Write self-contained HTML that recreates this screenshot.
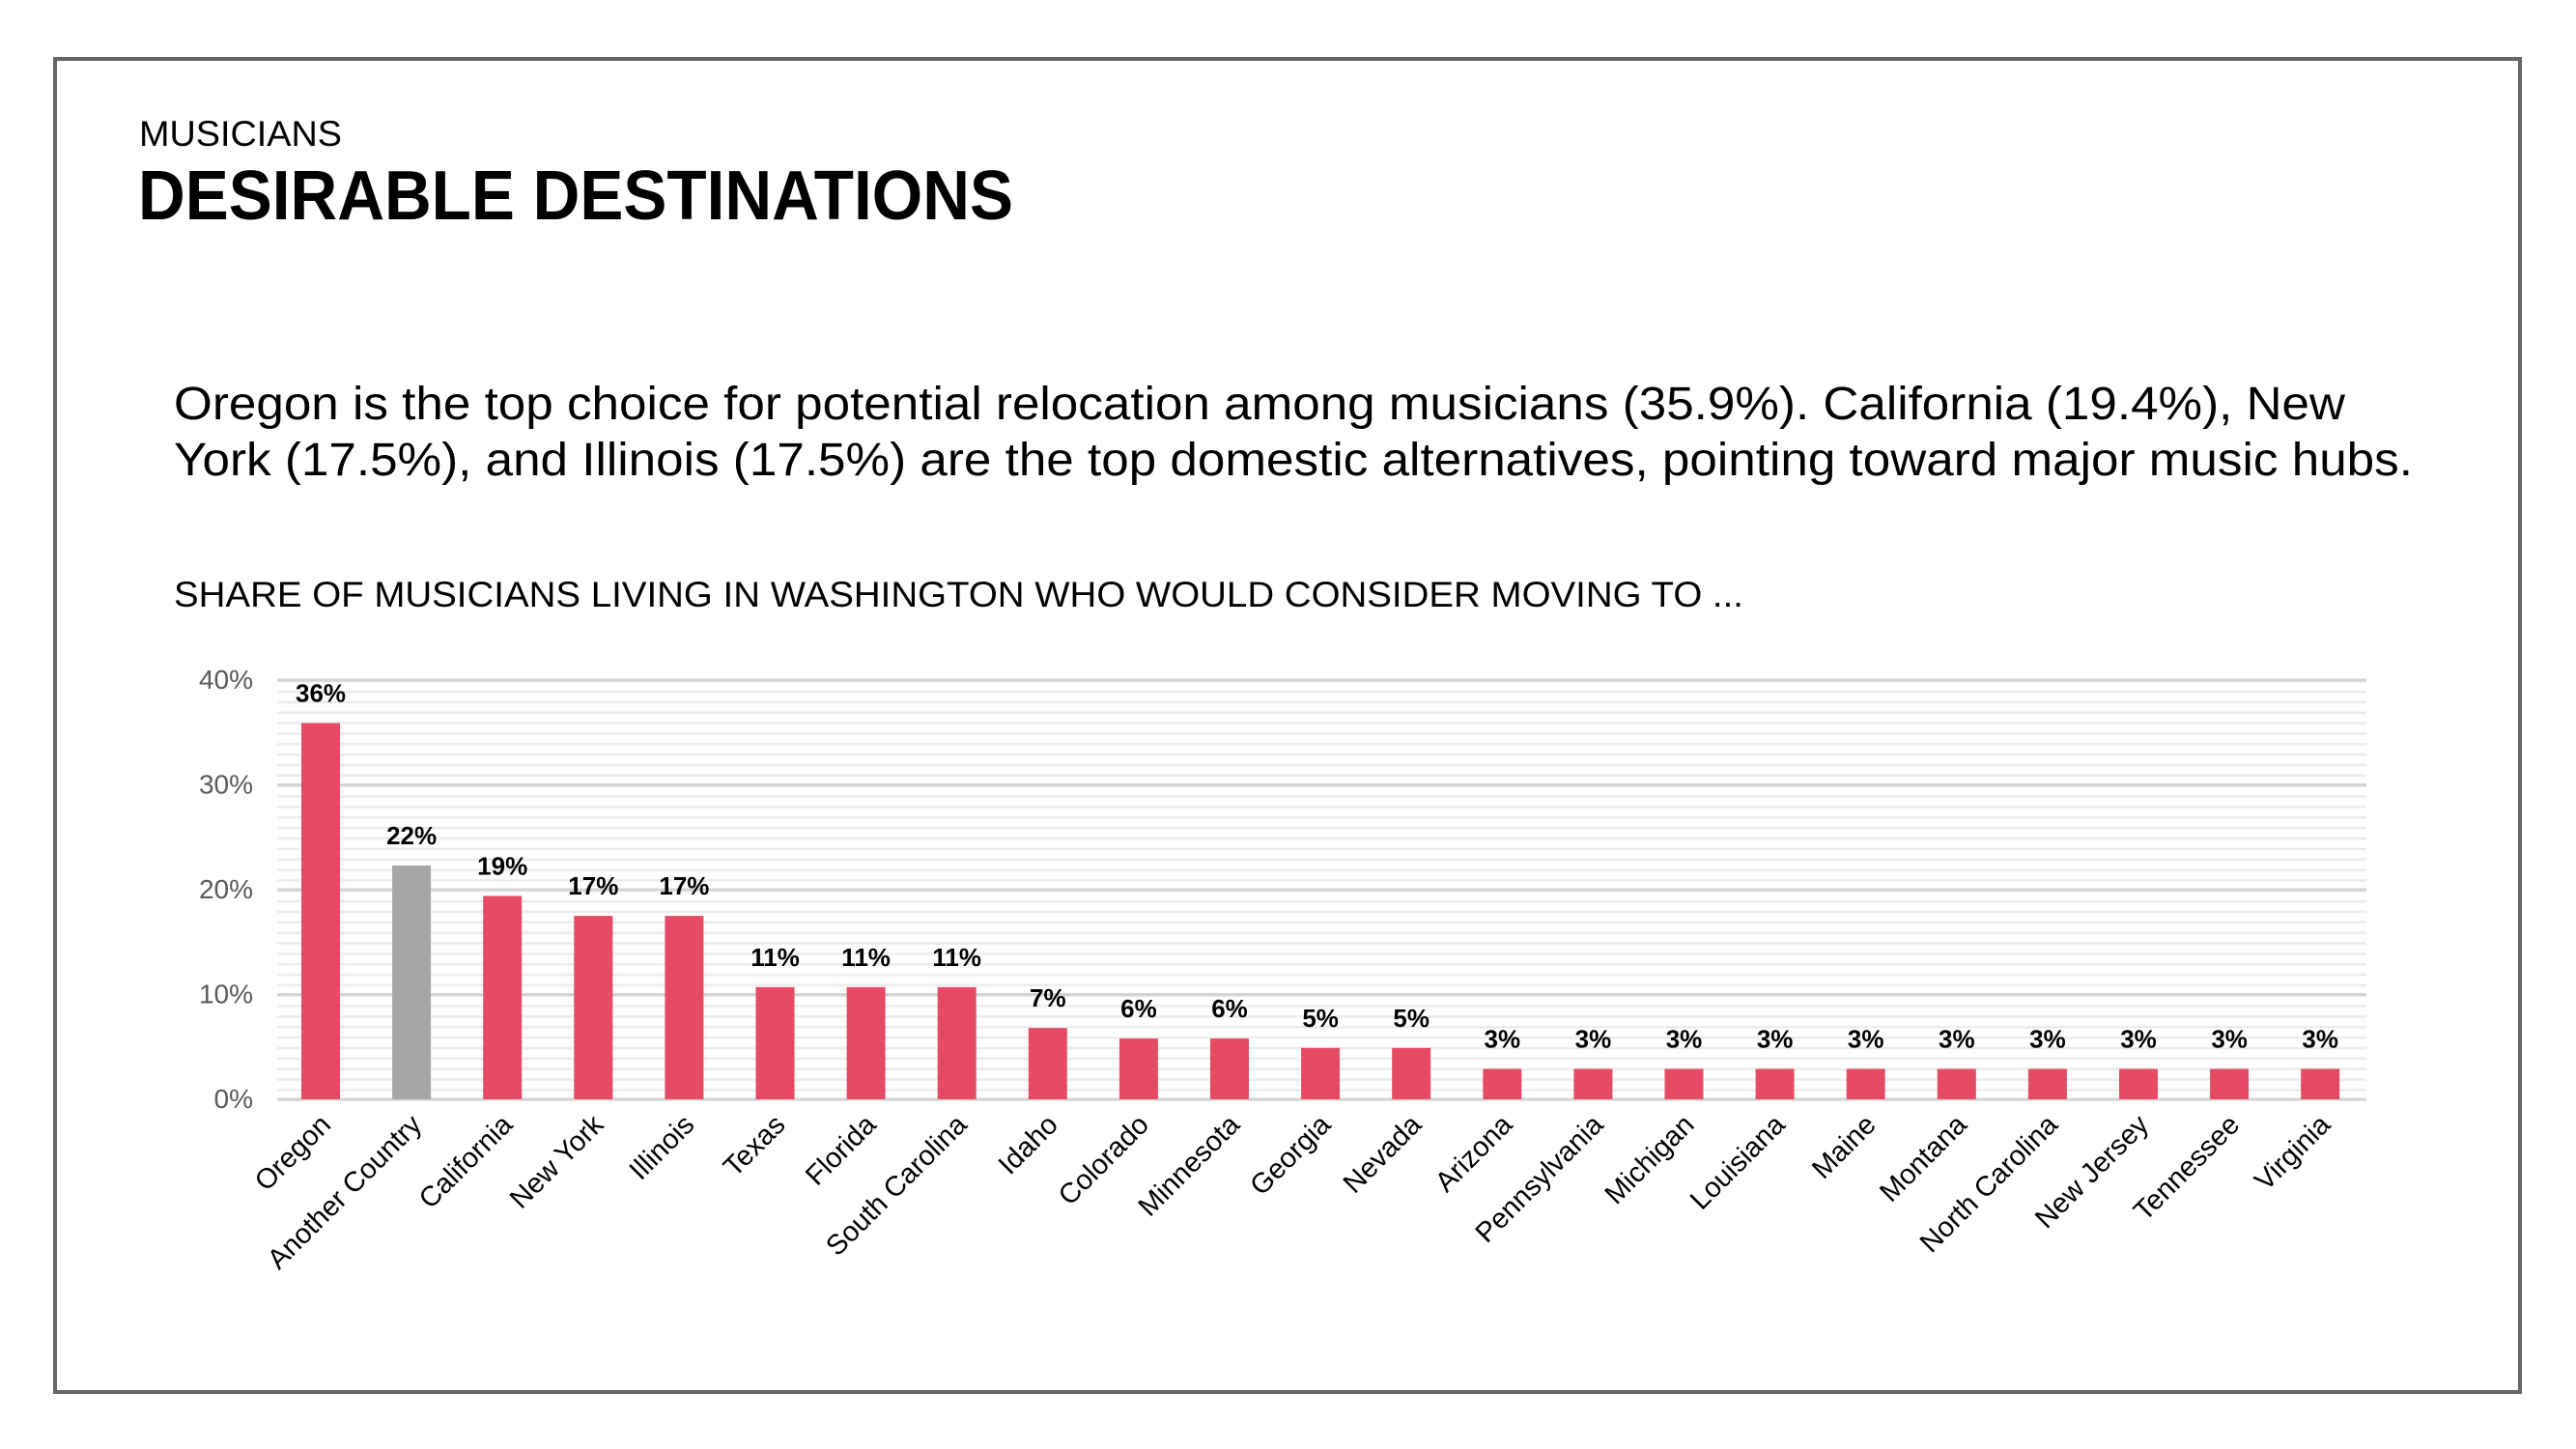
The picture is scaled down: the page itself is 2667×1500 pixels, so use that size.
<!DOCTYPE html>
<html><head><meta charset="utf-8"><style>html,body{margin:0;padding:0;background:#fff}svg{display:block}</style></head>
<body>
<svg width="2667" height="1500" viewBox="0 0 2667 1500" xmlns="http://www.w3.org/2000/svg" font-family="Liberation Sans, sans-serif">
<defs>
<pattern id="minor" patternUnits="userSpaceOnUse" x="0" y="708" width="50" height="10.85">
<rect x="0" y="0" width="50" height="2.5" fill="#ececec"/>
</pattern>
</defs>
<rect x="0" y="0" width="2667" height="1500" fill="#fff"/>
<rect x="57" y="61" width="2552" height="1380" fill="none" stroke="#666" stroke-width="4"/>
<text x="144" y="151" font-size="37" fill="#000" textLength="210" lengthAdjust="spacingAndGlyphs">MUSICIANS</text>
<text x="143" y="227" font-size="72" font-weight="bold" fill="#000" textLength="906" lengthAdjust="spacingAndGlyphs">DESIRABLE DESTINATIONS</text>
<text x="180" y="434" font-size="48" fill="#000" textLength="2248" lengthAdjust="spacingAndGlyphs">Oregon is the top choice for potential relocation among musicians (35.9%). California (19.4%), New</text>
<text x="180" y="492" font-size="48" fill="#000" textLength="2318" lengthAdjust="spacingAndGlyphs">York (17.5%), and Illinois (17.5%) are the top domestic alternatives, pointing toward major music hubs.</text>
<text x="180" y="628" font-size="37" fill="#000" textLength="1625" lengthAdjust="spacingAndGlyphs">SHARE OF MUSICIANS LIVING IN WASHINGTON WHO WOULD CONSIDER MOVING TO ...</text>

<g transform="translate(0,-4)">
<rect x="287" y="707" width="2163" height="437" fill="url(#minor)"/>
<g stroke="#d4d4d4" stroke-width="3">
<line x1="287" x2="2450" y1="708" y2="708"/>
<line x1="287" x2="2450" y1="816.5" y2="816.5"/>
<line x1="287" x2="2450" y1="925" y2="925"/>
<line x1="287" x2="2450" y1="1033.5" y2="1033.5"/>
<line x1="287" x2="2450" y1="1142" y2="1142"/>
</g>
<g font-size="28" fill="#595959" text-anchor="end">
<text x="262" y="717">40%</text>
<text x="262" y="825.5">30%</text>
<text x="262" y="934">20%</text>
<text x="262" y="1042.5">10%</text>
<text x="262" y="1151">0%</text>
</g>

<g font-size="29" fill="#000">
<g transform="translate(332,0)"><rect x="-20" y="752.5" width="40" height="389.5" fill="#e54b64"/><text x="0" y="730.5" font-size="26" font-weight="bold" text-anchor="middle">36%</text><text text-anchor="end" transform="translate(12,1170) rotate(-45)">Oregon</text></g>
<g transform="translate(426.1,0)"><rect x="-20" y="900" width="40" height="242" fill="#a6a6a6"/><text x="0" y="878" font-size="26" font-weight="bold" text-anchor="middle">22%</text><text text-anchor="end" transform="translate(12,1170) rotate(-45)">Another Country</text></g>
<g transform="translate(520.2,0)"><rect x="-20" y="931.5" width="40" height="210.5" fill="#e54b64"/><text x="0" y="909.5" font-size="26" font-weight="bold" text-anchor="middle">19%</text><text text-anchor="end" transform="translate(12,1170) rotate(-45)">California</text></g>
<g transform="translate(614.3,0)"><rect x="-20" y="952.1" width="40" height="189.9" fill="#e54b64"/><text x="0" y="930" font-size="26" font-weight="bold" text-anchor="middle">17%</text><text text-anchor="end" transform="translate(12,1170) rotate(-45)">New York</text></g>
<g transform="translate(708.4,0)"><rect x="-20" y="952.1" width="40" height="189.9" fill="#e54b64"/><text x="0" y="930" font-size="26" font-weight="bold" text-anchor="middle">17%</text><text text-anchor="end" transform="translate(12,1170) rotate(-45)">Illinois</text></g>
<g transform="translate(802.5,0)"><rect x="-20" y="1025.9" width="40" height="116.1" fill="#e54b64"/><text x="0" y="1004" font-size="26" font-weight="bold" text-anchor="middle">11%</text><text text-anchor="end" transform="translate(12,1170) rotate(-45)">Texas</text></g>
<g transform="translate(896.6,0)"><rect x="-20" y="1025.9" width="40" height="116.1" fill="#e54b64"/><text x="0" y="1004" font-size="26" font-weight="bold" text-anchor="middle">11%</text><text text-anchor="end" transform="translate(12,1170) rotate(-45)">Florida</text></g>
<g transform="translate(990.7,0)"><rect x="-20" y="1025.9" width="40" height="116.1" fill="#e54b64"/><text x="0" y="1004" font-size="26" font-weight="bold" text-anchor="middle">11%</text><text text-anchor="end" transform="translate(12,1170) rotate(-45)">South Carolina</text></g>
<g transform="translate(1084.8,0)"><rect x="-20" y="1068.2" width="40" height="73.8" fill="#e54b64"/><text x="0" y="1046" font-size="26" font-weight="bold" text-anchor="middle">7%</text><text text-anchor="end" transform="translate(12,1170) rotate(-45)">Idaho</text></g>
<g transform="translate(1178.9,0)"><rect x="-20" y="1079.1" width="40" height="62.9" fill="#e54b64"/><text x="0" y="1057" font-size="26" font-weight="bold" text-anchor="middle">6%</text><text text-anchor="end" transform="translate(12,1170) rotate(-45)">Colorado</text></g>
<g transform="translate(1273,0)"><rect x="-20" y="1079.1" width="40" height="62.9" fill="#e54b64"/><text x="0" y="1057" font-size="26" font-weight="bold" text-anchor="middle">6%</text><text text-anchor="end" transform="translate(12,1170) rotate(-45)">Minnesota</text></g>
<g transform="translate(1367.1,0)"><rect x="-20" y="1088.8" width="40" height="53.2" fill="#e54b64"/><text x="0" y="1067" font-size="26" font-weight="bold" text-anchor="middle">5%</text><text text-anchor="end" transform="translate(12,1170) rotate(-45)">Georgia</text></g>
<g transform="translate(1461.2,0)"><rect x="-20" y="1088.8" width="40" height="53.2" fill="#e54b64"/><text x="0" y="1067" font-size="26" font-weight="bold" text-anchor="middle">5%</text><text text-anchor="end" transform="translate(12,1170) rotate(-45)">Nevada</text></g>
<g transform="translate(1555.3,0)"><rect x="-20" y="1110.5" width="40" height="31.5" fill="#e54b64"/><text x="0" y="1088.5" font-size="26" font-weight="bold" text-anchor="middle">3%</text><text text-anchor="end" transform="translate(12,1170) rotate(-45)">Arizona</text></g>
<g transform="translate(1649.4,0)"><rect x="-20" y="1110.5" width="40" height="31.5" fill="#e54b64"/><text x="0" y="1088.5" font-size="26" font-weight="bold" text-anchor="middle">3%</text><text text-anchor="end" transform="translate(12,1170) rotate(-45)">Pennsylvania</text></g>
<g transform="translate(1743.5,0)"><rect x="-20" y="1110.5" width="40" height="31.5" fill="#e54b64"/><text x="0" y="1088.5" font-size="26" font-weight="bold" text-anchor="middle">3%</text><text text-anchor="end" transform="translate(12,1170) rotate(-45)">Michigan</text></g>
<g transform="translate(1837.6,0)"><rect x="-20" y="1110.5" width="40" height="31.5" fill="#e54b64"/><text x="0" y="1088.5" font-size="26" font-weight="bold" text-anchor="middle">3%</text><text text-anchor="end" transform="translate(12,1170) rotate(-45)">Louisiana</text></g>
<g transform="translate(1931.7,0)"><rect x="-20" y="1110.5" width="40" height="31.5" fill="#e54b64"/><text x="0" y="1088.5" font-size="26" font-weight="bold" text-anchor="middle">3%</text><text text-anchor="end" transform="translate(12,1170) rotate(-45)">Maine</text></g>
<g transform="translate(2025.8,0)"><rect x="-20" y="1110.5" width="40" height="31.5" fill="#e54b64"/><text x="0" y="1088.5" font-size="26" font-weight="bold" text-anchor="middle">3%</text><text text-anchor="end" transform="translate(12,1170) rotate(-45)">Montana</text></g>
<g transform="translate(2119.9,0)"><rect x="-20" y="1110.5" width="40" height="31.5" fill="#e54b64"/><text x="0" y="1088.5" font-size="26" font-weight="bold" text-anchor="middle">3%</text><text text-anchor="end" transform="translate(12,1170) rotate(-45)">North Carolina</text></g>
<g transform="translate(2214,0)"><rect x="-20" y="1110.5" width="40" height="31.5" fill="#e54b64"/><text x="0" y="1088.5" font-size="26" font-weight="bold" text-anchor="middle">3%</text><text text-anchor="end" transform="translate(12,1170) rotate(-45)">New Jersey</text></g>
<g transform="translate(2308.1,0)"><rect x="-20" y="1110.5" width="40" height="31.5" fill="#e54b64"/><text x="0" y="1088.5" font-size="26" font-weight="bold" text-anchor="middle">3%</text><text text-anchor="end" transform="translate(12,1170) rotate(-45)">Tennessee</text></g>
<g transform="translate(2402.2,0)"><rect x="-20" y="1110.5" width="40" height="31.5" fill="#e54b64"/><text x="0" y="1088.5" font-size="26" font-weight="bold" text-anchor="middle">3%</text><text text-anchor="end" transform="translate(12,1170) rotate(-45)">Virginia</text></g>
</g>
</g>
</svg>
</body></html>
